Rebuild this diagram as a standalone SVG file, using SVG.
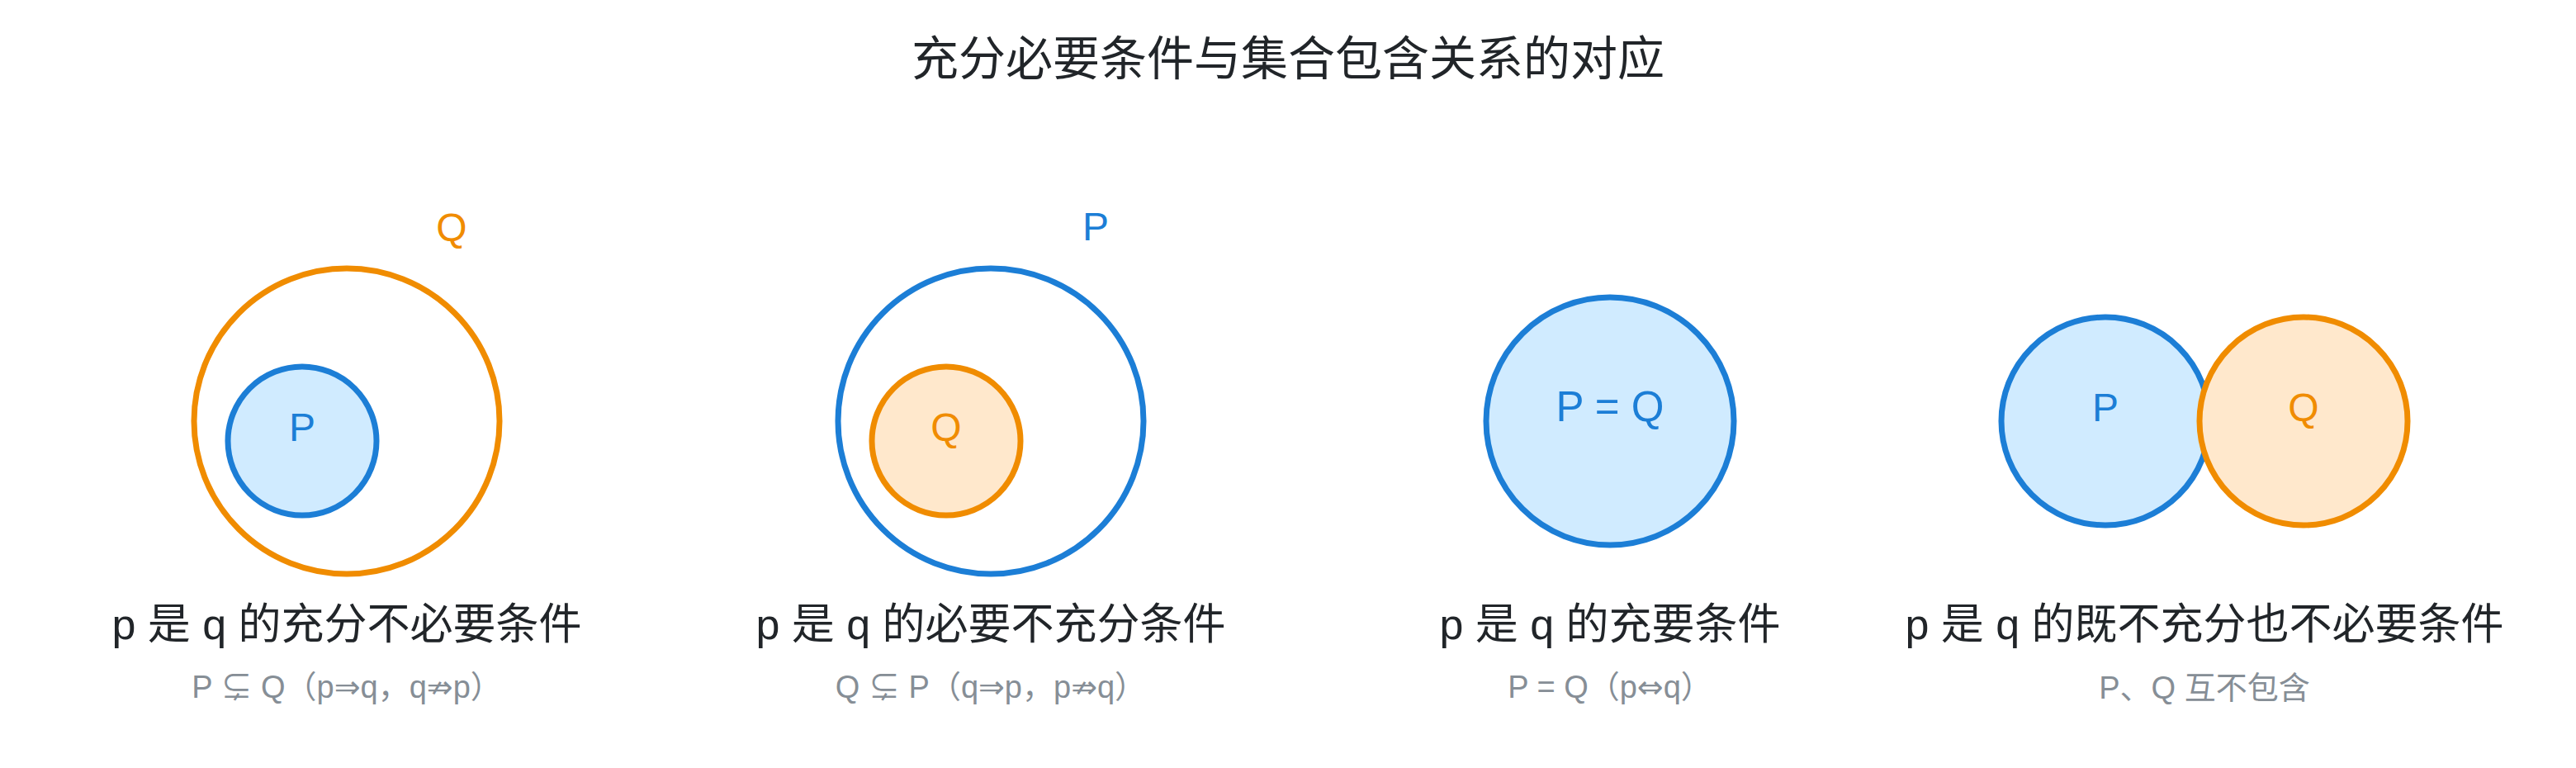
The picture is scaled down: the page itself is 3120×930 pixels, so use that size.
<svg xmlns="http://www.w3.org/2000/svg" width="3120" height="930" viewBox="0 0 3120 930">
<style>
text{font-family:"Liberation Sans","Noto Sans CJK SC",sans-serif;text-anchor:middle}
.title{font-size:57px;fill:#212529}
.lab{font-size:52px;fill:#212529}
.sub{font-size:38px;fill:#868e96}
.ar{font-family:"DejaVu Sans",sans-serif}
.set{font-size:48px}
.bs{fill:none;stroke:#1c7ed6;stroke-width:7}
.bf{fill:#d0ebff;stroke:#1c7ed6;stroke-width:7}
.os{fill:none;stroke:#f08c00;stroke-width:7}
.of{fill:#ffe8cc;stroke:#f08c00;stroke-width:7}
.bt{fill:#1c7ed6}
.ot{fill:#f08c00}
</style>
<rect width="3120" height="930" fill="#ffffff"/>
<text class="title" x="1560" y="91">充分必要条件与集合包含关系的对应</text>
<g id="case1">
<circle class="os" cx="420" cy="510" r="185"/>
<circle class="bf" cx="366" cy="534" r="90"/>
<text class="set bt" x="366" y="534">P</text>
<text class="set ot" x="547" y="292">Q</text>
<text class="lab" x="420" y="774">p 是 q 的充分不必要条件</text>
<text class="sub" x="420" y="845">P ⊊ Q（p<tspan class="ar">⇒</tspan>q，q<tspan class="ar">⇏</tspan>p）</text>
</g>
<g id="case2">
<circle class="bs" cx="1200" cy="510" r="185"/>
<circle class="of" cx="1146" cy="534" r="90"/>
<text class="set ot" x="1146" y="534">Q</text>
<text class="set bt" x="1327" y="291">P</text>
<text class="lab" x="1200" y="774">p 是 q 的必要不充分条件</text>
<text class="sub" x="1200" y="845">Q ⊊ P（q<tspan class="ar">⇒</tspan>p，p<tspan class="ar">⇏</tspan>q）</text>
</g>
<g id="case3">
<circle class="bf" cx="1950" cy="510" r="150"/>
<text class="bt" style="font-size:51px" x="1950" y="510">P = Q</text>
<text class="lab" x="1950" y="774">p 是 q 的充要条件</text>
<text class="sub" x="1950" y="845">P = Q（p<tspan class="ar">⇔</tspan>q）</text>
</g>
<g id="case4">
<circle class="bf" cx="2550" cy="510" r="126"/>
<circle class="of" cx="2790" cy="510" r="126"/>
<text class="set bt" x="2550" y="510">P</text>
<text class="set ot" x="2790" y="510">Q</text>
<text class="lab" x="2670" y="774">p 是 q 的既不充分也不必要条件</text>
<text class="sub" x="2670" y="846">P、Q 互不包含</text>
</g>
</svg>
